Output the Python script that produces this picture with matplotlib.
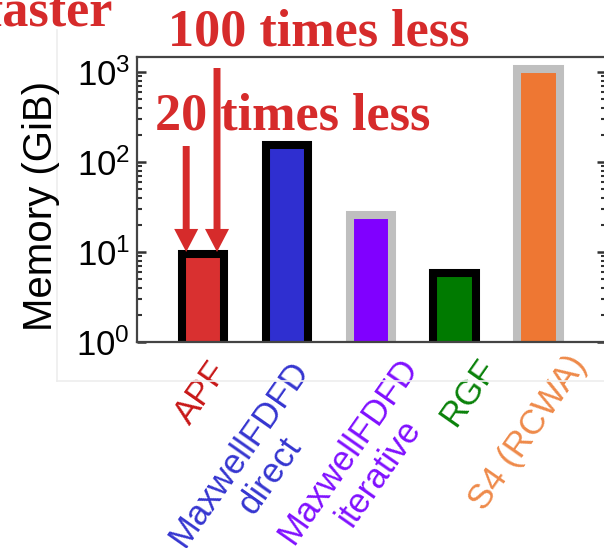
import numpy as np
import matplotlib
matplotlib.use('Agg')
import matplotlib.pyplot as plt
from matplotlib.lines import Line2D
from matplotlib.transforms import blended_transform_factory, ScaledTranslation

# Solvers and their peak memory use (GiB)
solvers = ['APF', 'MaxwellFDFD\ndirect', 'MaxwellFDFD\niterative', 'RGF', 'S4 (RCWA)']
memory_gib = [9.6, 156, 26, 5.8, 1070]

fill_colors = ['#d93030', '#2f2fd0', '#8000ff', '#007a00', '#ee7733']
edge_colors = ['black', 'black', '#bfbfbf', 'black', '#bfbfbf']
label_colors = ['#c81818', '#3535d0', '#8010ff', '#0a820a', '#ee8a4a']

# label anchor offsets in pixels (right, down) from bar centre / axis bottom
label_shift = [(4, 14), (1, 13), (26, 10), (21, 11), (27, 8)]

plt.rcParams['font.family'] = ['Liberation Sans', 'DejaVu Sans']
plt.rcParams['mathtext.fontset'] = 'custom'
plt.rcParams['mathtext.rm'] = 'Liberation Sans'
plt.rcParams['mathtext.default'] = 'regular'

W, H = 604, 548
fig = plt.figure(figsize=(W / 100, H / 100), dpi=100)
fig.patch.set_facecolor('white')


def fx(px):
    return px / W


def fy(py):
    return 1 - py / H


# faint panel border
fig.add_artist(Line2D([fx(57), fx(57)], [fy(30), fy(381)], color='#ededed', lw=1.2,
                      transform=fig.transFigure))
fig.add_artist(Line2D([fx(57), fx(604)], [fy(381), fy(381)], color='#ededed', lw=1.2,
                      transform=fig.transFigure))

ax = fig.add_axes([fx(137), fy(342), fx(606) - fx(137), fy(57) - fy(342)])
ax.set_yscale('log')

x = np.arange(len(solvers))
ax.bar(x, memory_gib, width=0.51, color=fill_colors, edgecolor=edge_colors,
       linewidth=5.8, zorder=2)

ax.set_xlim(-0.786, 4.80)
ax.set_ylim(1, 10 ** (3 + 15 / 90))

for side in ['left', 'right', 'top', 'bottom']:
    ax.spines[side].set_color('#444444')
    ax.spines[side].set_linewidth(1.6)

ax.set_xticks([])
ax.tick_params(axis='y', which='both', direction='in', right=True, color='#333333',
               labelsize=25, pad=5)
ax.tick_params(axis='y', which='major', length=6.5, width=1.8)
ax.tick_params(axis='y', which='minor', length=3.5, width=1.5)

# rotated solver names under the bars
base = blended_transform_factory(ax.transData, ax.transAxes)
for i, (name, col, (dx, dy)) in enumerate(zip(solvers, label_colors, label_shift)):
    tr = base + ScaledTranslation(dx / 100, -dy / 100, fig.dpi_scale_trans)
    ax.text(i, 0, name, transform=tr, rotation=55, rotation_mode='anchor',
            ha='right', va='top', multialignment='center', color=col, fontsize=25)

fig.text(fx(52), fy(206), 'Memory (GiB)', rotation=90, rotation_mode='anchor',
         ha='center', va='baseline', fontsize=29, color='black')

# annotations
red = '#d62b2b'
serif = dict(family='Liberation Serif', weight='bold', color=red, fontsize=37.5)
fig.text(fx(113), fy(25), 'faster', ha='right', va='baseline', **serif)
fig.text(fx(168), fy(45), '100 times less', ha='left', va='baseline', **serif)
fig.text(fx(155), fy(130), '20 times less', ha='left', va='baseline', **serif)

arrow = dict(arrowstyle='simple,head_length=1.66,head_width=1.73,tail_width=0.5',
             color=red, lw=0, shrinkA=0, shrinkB=0)
tip = 10 ** ((342 - 252) / 90)
ax.annotate('', xy=(-0.2, tip), xytext=(-0.2, 10 ** ((342 - 146) / 90)),
            arrowprops=dict(arrow, mutation_scale=10), zorder=3)
ax.annotate('', xy=(0.167, tip), xytext=(0.167, 10 ** ((342 - 68) / 90)),
            arrowprops=dict(arrow, mutation_scale=10), zorder=3)

fig.savefig('out.png', dpi=100, facecolor='white')
